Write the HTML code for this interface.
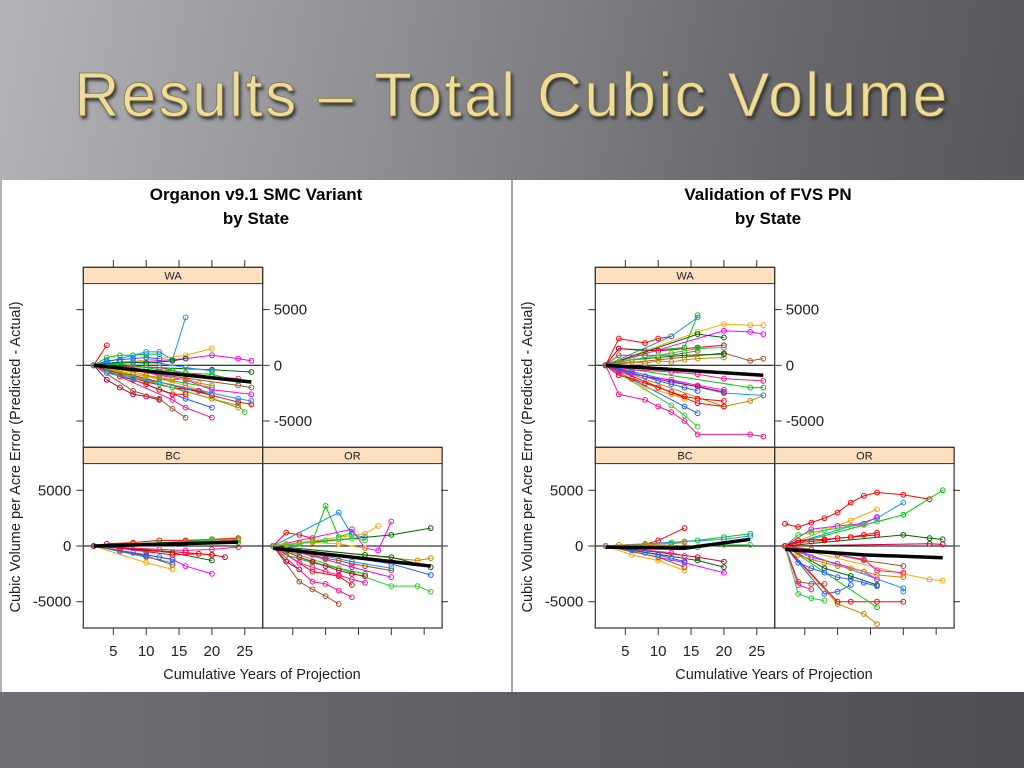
<!DOCTYPE html>
<html><head><meta charset="utf-8">
<style>
html,body{margin:0;padding:0;width:1024px;height:768px;overflow:hidden;}
body{background:linear-gradient(100deg,#b4b4b8 0%,#8e8e93 35%,#66666b 70%,#505055 100%);font-family:"Liberation Sans",sans-serif;position:relative;}
#title{position:absolute;left:0;top:60px;width:1024px;text-align:center;font-size:62px;letter-spacing:2.5px;color:#ecdd9c;text-shadow:2px 3px 3px #333;-webkit-text-stroke:0.8px #8a7a40;}
#bottom{position:absolute;left:0;top:692px;width:1024px;height:76px;background:linear-gradient(90deg,#707074,#4e4e53);}
svg{position:absolute;left:0;top:180px;}
</style></head>
<body>
<div id="title">Results – Total Cubic Volume</div>
<div id="bottom"></div>
<svg id="chart" width="1024" height="512" viewBox="0 180 1024 512"></svg>
<script>
// ---- data: each line is flat [year, value, year, value, ...] ----
const leftWA = [
 [2,0,4,1800],[2,0,4,700,6,900,8,900,10,1000,12,1000],[2,0,10,1200,12,1200,14,500,16,4300],
 [2,0,12,600,16,900,20,1500],[2,0,16,600,20,900,24,600,26,400],[2,0,20,-400,26,-600],
 [2,0,4,-1300,6,-2000,8,-2600,10,-2800,12,-3100],[2,0,8,-2300,12,-3000,14,-3900,16,-4700],
 [2,0,14,-3100,16,-3800,20,-4700],[2,0,20,-3000,24,-3600,25,-4200],[2,0,16,-3000,20,-3800],
 [2,0,20,-3000,24,-3800],[2,0,24,-3300,26,-3500],[2,0,4,-300,8,-800,12,-1200,16,-1600,20,-2000],
 [2,0,4,200,8,300,12,200,16,-200,20,-500],[2,0,6,-600,10,-1000,14,-1500,20,-2500],
 [2,0,8,-400,12,-900,16,-1300,20,-2200,26,-2600],[2,0,6,300,10,200,14,400,16,600],
 [2,0,10,-1500,14,-2000,18,-2300,20,-2700],[2,0,24,-1800,26,-2000],[2,0,12,-200,16,-700,20,-1000,24,-1200],
 [2,0,4,-500,6,-800,8,-1100,10,-1400,12,-1700,14,-2000,16,-2400],[2,0,4,400,6,500,8,600,10,700,12,600],
 [2,0,4,-200,6,-400,8,-600,10,-900,12,-1100,14,-1300,16,-1200,18,-1600,20,-1800],
 [2,0,6,-1000,8,-1300,10,-1700,12,-2200,14,-2600,16,-2600],[2,0,6,100,8,0,10,-200,12,-400,14,-500,16,-700,20,-800,24,-1400],
 [2,0,4,-700,8,-1200,12,-1500,16,-2000,20,-2500,24,-3000,26,-3200]
];
const leftWAMean = [2,0,26,-1500];
const leftBC = [
 [2,0,4,200,8,300,12,500,16,500,20,600,24,700],[2,0,8,200,12,300,16,400,20,600,24,500],
 [2,0,6,-500,10,-1000,14,-1500],[2,0,10,-1500,14,-2100],[2,0,14,-1200,16,-1800,20,-2500],
 [2,0,14,-600,20,-1300],[2,0,16,-600,20,-800,22,-1000],[2,0,10,-900,14,-1700],
 [2,0,12,-300,16,-400,20,-300,24,-100],[2,0,12,100,16,300,20,500,24,300],
 [2,0,6,-400,8,-600,10,-800,12,-1000,14,-1200],[2,0,4,0,8,100,12,200,16,300,20,400,24,600],
 [2,0,6,-200,10,-500,14,-800,18,-700,20,-800]
];
const leftBCMean = [2,0,24,350];
const leftOR = [
 [2,0,4,1200,6,1000,8,700],[2,0,6,300,8,400,10,3600,12,800,14,1200],[2,0,12,3000,14,1000,16,800],
 [2,0,16,1100,18,1800],[2,0,14,1500,16,-200,18,-400,20,2200],[2,0,20,1000,26,1600],
 [2,0,4,-1400,6,-2100],[2,0,6,-3200,8,-3900,10,-4500,12,-5200],[2,0,8,-3200,10,-3400,12,-4000,14,-4600],
 [2,0,20,-3600,24,-3600,26,-4100],[2,0,20,-1600,26,-2600],[2,0,24,-1300,26,-1100],
 [2,0,8,-2300,12,-2700,14,-3500],[2,0,4,-800,8,-1500,12,-2000,16,-2500],[2,0,6,-600,10,-900,14,-1400,20,-2000],
 [2,0,4,200,8,300,12,200,16,-200],[2,0,10,-1200,14,-1900,20,-2800],[2,0,16,-800,20,-1000,26,-1900],
 [2,0,4,-500,6,-1000,8,-1400,10,-1800,12,-2200,14,-2500,16,-2700],[2,0,4,-300,6,-500,8,-800,10,-1100,12,-1300,14,-1600,16,-1800,20,-2200],
 [2,0,6,-1500,8,-1900,10,-2300,12,-2600,14,-3000,16,-3300],[2,0,4,100,6,200,8,400,10,500,12,600,14,700,16,500]
];
const leftORMean = [2,-200,26,-1800];
const rightWA = [
 [2,0,4,2400,8,2000,10,2400,12,2600],[2,0,4,1500,8,1300,14,1600,16,4500],[2,0,12,2600,16,4300],
 [2,0,16,3000,20,3700,24,3600,26,3600],[2,0,20,3100,24,3000,26,2800],[2,0,16,2800,20,2500],
 [2,0,4,1500,10,1300,16,1600,20,1800],[2,0,20,1100,24,400,26,600],[2,0,4,-2600,8,-3100,10,-3700,12,-4200,14,-5000,16,-6200,24,-6200,26,-6400],
 [2,0,12,-3600,14,-4500,16,-5500],[2,0,14,-3700,16,-4300],[2,0,20,-3700,24,-3200,26,-2700],
 [2,0,16,-3400,20,-3700],[2,0,24,-2000,26,-2000],[2,0,20,-2500,26,-2700],[2,0,8,-2000,12,-2600,14,-3000],
 [2,0,4,-600,8,-1000,12,-1300,16,-1800,20,-2200],[2,0,6,500,10,700,14,900,20,1000],
 [2,0,8,-1000,12,-1500,16,-1900,20,-2400],[2,0,4,900,8,900,12,900,16,1300],[2,0,6,-400,12,-600,16,-800,20,-1200,26,-1400],
 [2,0,4,300,6,500,8,700,10,900,12,1100,14,1300,16,1500,20,1600],[2,0,4,-400,6,-700,8,-1000,10,-1400,12,-1700,14,-2000,16,-2300],
 [2,0,4,200,6,300,8,200,10,400,12,300,14,500,16,600,20,700],[2,0,4,-900,6,-1200,8,-1600,10,-2000,12,-2400,14,-2800,16,-3000,20,-3200]
];
const rightWAMean = [2,0,26,-900];
const rightBC = [
 [2,0,6,-200,10,500,14,1600],[2,0,8,200,12,300,16,500,20,800,24,1100],[2,0,14,400,20,600,24,900],
 [2,0,6,-800,10,-1300,14,-2200],[2,0,14,-1500,20,-2400],[2,0,16,-1300,20,-1900],[2,0,16,-1000,20,-1400],
 [2,0,10,-1000,14,-1900],[2,0,12,-600,14,-900],[2,0,16,-100,20,100,24,100],
 [2,0,6,-400,8,-600,10,-800,12,-1100,14,-1400],[2,0,4,100,8,100,12,200,14,300]
];
const rightBCMean = [2,-100,14,-200,24,600];
const rightOR = [
 [2,2000,4,1700,6,2100,8,2500,10,3000,12,3900,14,4500,16,4800,20,4600,24,4200],[2,0,20,2800,26,5000],
 [2,0,16,2500,20,3900],[2,0,12,2300,16,3300],[2,0,6,1500,10,1800,14,2000,16,2600],
 [2,0,20,1000,24,700,26,600],[2,0,24,200,26,150],[2,0,4,-3200,6,-3400,8,-3400],[2,0,4,-3500,6,-3900],
 [2,0,4,-4300,6,-4700,8,-4900],[2,0,8,-4300,10,-4100,12,-3500],[2,0,10,-5200,14,-6100,16,-7000],
 [2,0,10,-5000,12,-5000,16,-5000,20,-5000],[2,0,16,-5500],[2,0,20,-3800,20,-4100],[2,0,20,-2500,24,-3000,26,-3100],
 [2,0,6,-1000,10,-1600,14,-2300,16,-3000],[2,0,8,-2000,12,-2700,16,-3500],[2,0,4,500,8,600,12,800,16,1000],
 [2,0,6,-300,10,-800,14,-1300,20,-1800],[2,0,14,-1200,16,-2200,20,-2400],
 [2,0,4,1000,6,1200,8,1400,10,1600,12,1800,14,1900,16,2200],[2,0,4,-1500,6,-2000,8,-2400,10,-2800,12,-3000,14,-3300,16,-3600],
 [2,0,4,-800,6,-1200,8,-1500,10,-1800,12,-2000,14,-2300,16,-2600,20,-2800],[2,0,4,300,6,400,8,500,10,700,12,800,14,1000,16,1200]
];
const rightORMean = [2,-300,14,-800,26,-1050];
const xTicks = [5,10,15,20,25];
const yTicks = [-5000,0,5000];
const palette = ['#ff0000','#00cc00','#1e90ff','#ffa500','#ff00ff','#006400','#cc0033','#a0522d','#ff1493','#32cd32','#2060ff','#cd8500'];

const NS='http://www.w3.org/2000/svg';
const svg=document.getElementById('chart');
function mk(tag,attrs,parent){const e=document.createElementNS(NS,tag);for(const k in attrs)e.setAttribute(k,attrs[k]);(parent||svg).appendChild(e);return e;}
const PX_YR=6.57, PX_VAL=55.7/5000;
function panel(name,x0,top,bottom,zeroY,lines,mean){
  const g=mk('g',{});
  
  
  const xs=v=>x0-2.8+v*PX_YR, ys=v=>zeroY-v*PX_VAL;
  mk('rect',{x:x0,y:top,width:179.4,height:16.3,fill:'#fde0c0',stroke:'#333','stroke-width':1},g);
  const st=mk('text',{x:x0+89.7,y:top+12,'text-anchor':'middle','font-size':11,fill:'#222'},g);st.textContent=name.split('-').pop().toUpperCase();
  const clip='c'+name; const cp=mk('clipPath',{id:clip},g);
  mk('rect',{x:x0,y:top+16.3,width:179.4,height:bottom-top-16.3},cp);
  const pg=mk('g',{'clip-path':'url(#'+clip+')'},g);
  mk('line',{x1:x0,x2:x0+179.4,y1:zeroY,y2:zeroY,stroke:'#000','stroke-width':1},pg);
  lines.forEach((ln,i)=>{
    const c=palette[i%palette.length];let pts=[];
    for(let k=0;k<ln.length;k+=2)pts.push(xs(ln[k])+','+ys(ln[k+1]));
    const pl=mk('polyline',{points:pts.join(' '),fill:'none',stroke:c,'stroke-width':1},pg);
    
    
    for(let k=0;k<ln.length;k+=2)mk('circle',{cx:xs(ln[k]),cy:ys(ln[k+1]),r:2.4,fill:'none',stroke:c,'stroke-width':1},pg);
  });
  let mp=[];for(let k=0;k<mean.length;k+=2)mp.push(xs(mean[k])+','+ys(mean[k+1]));
  const ml=mk('polyline',{points:mp.join(' '),fill:'none',stroke:'#000','stroke-width':3.5},pg);
  
  
  mk('rect',{x:x0,y:top,width:179.4,height:bottom-top,fill:'none',stroke:'#333','stroke-width':1.2},g);
  return {xs,ys};
}
function chart(ox,title,WA,WAm,BC,BCm,OR,ORm,pre){
  const t1=mk('text',{x:ox+256,y:200,'text-anchor':'middle','font-size':17,'font-weight':'bold',fill:'#000'});t1.textContent=title;
  
  const t2=mk('text',{x:ox+256,y:224,'text-anchor':'middle','font-size':17,'font-weight':'bold',fill:'#000'});t2.textContent='by State';
  const L=ox+83.3, R=ox+262.7;
  const wa=panel(pre+'-wa',L,267.3,447.3,365.3,WA,WAm);
  panel(pre+'-bc',L,447.3,628,546,BC,BCm);
  panel(pre+'-or',R,447.3,628,546,OR,ORm);
  xTicks.forEach(v=>{mk('line',{x1:wa.xs(v),x2:wa.xs(v),y1:260,y2:267,stroke:'#333'});});
  xTicks.forEach(v=>{const x=wa.xs(v);mk('line',{x1:x,x2:x,y1:628,y2:635,stroke:'#333'});
    const tl=mk('text',{x:x,y:656,'text-anchor':'middle','font-size':15,fill:'#222'});tl.textContent=v;
    
    mk('line',{x1:x+179.4,x2:x+179.4,y1:628,y2:635,stroke:'#333'});});
  yTicks.forEach(v=>{
    const yw=365.3-v*PX_VAL, yb=546-v*PX_VAL;
    mk('line',{x1:L-7,x2:L,y1:yw,y2:yw,stroke:'#333'});
    mk('line',{x1:R,x2:R+7,y1:yw,y2:yw,stroke:'#333'});
    const a=mk('text',{x:R+11,y:yw+5,'font-size':15,fill:'#222'});a.textContent=v;
    
    mk('line',{x1:L-7,x2:L,y1:yb,y2:yb,stroke:'#333'});
    const b=mk('text',{x:L-12,y:yb+5,'text-anchor':'end','font-size':15,fill:'#222'});b.textContent=v;
    
    mk('line',{x1:ox+441,x2:ox+448,y1:yb,y2:yb,stroke:'#333'});
  });
  const xt=mk('text',{x:ox+262,y:679,'text-anchor':'middle','font-size':14.5,fill:'#222'});xt.textContent='Cumulative Years of Projection';
  
  const yt=mk('text',{x:0,y:0,'text-anchor':'middle','font-size':14.5,fill:'#222',transform:'translate('+(ox+20)+',457) rotate(-90)'});yt.textContent='Cubic Volume per Acre Error (Predicted - Actual)';
  
}
const bg=mk('rect',{x:0,y:180,width:1024,height:512,fill:'#fff'});


mk('line',{x1:512,x2:512,y1:180,y2:692,stroke:'#888','stroke-width':1.5});
mk('line',{x1:1,x2:1,y1:180,y2:692,stroke:'#999','stroke-width':1.5});
chart(0,'Organon v9.1 SMC Variant',leftWA,leftWAMean,leftBC,leftBCMean,leftOR,leftORMean,'organon');
chart(512,'Validation of FVS PN',rightWA,rightWAMean,rightBC,rightBCMean,rightOR,rightORMean,'fvs');
</script>
</body></html>
